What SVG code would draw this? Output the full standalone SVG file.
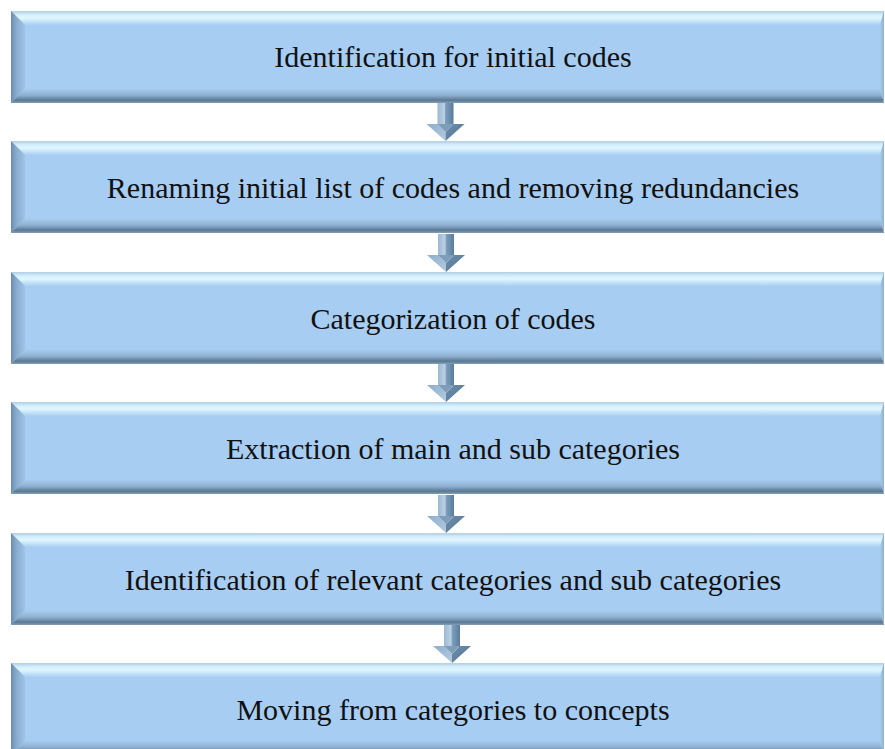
<svg xmlns="http://www.w3.org/2000/svg" xmlns:xlink="http://www.w3.org/1999/xlink" width="885" height="749" viewBox="0 0 885 749">
<defs>
<style>
.lbl{font-family:"Liberation Serif","Times New Roman",serif;font-size:30px;fill:#111;text-anchor:middle}
</style>
<linearGradient id="gTop" x1="0" y1="0" x2="0" y2="1">
<stop offset="0" stop-color="#b3cde3"/>
<stop offset="0.3" stop-color="#d6f1ff"/>
<stop offset="0.5" stop-color="#e0f7ff"/>
<stop offset="1" stop-color="#a9cff2"/>
</linearGradient>
<linearGradient id="gLeft" x1="0" y1="0" x2="1" y2="0">
<stop offset="0" stop-color="#6b8cab"/>
<stop offset="0.35" stop-color="#86aacb"/>
<stop offset="1" stop-color="#9fc4e7"/>
</linearGradient>
<linearGradient id="gBot" x1="0" y1="0" x2="0" y2="1">
<stop offset="0" stop-color="#a6cbee"/>
<stop offset="0.45" stop-color="#8eb0d0"/>
<stop offset="0.8" stop-color="#5a7892"/>
<stop offset="1" stop-color="#849fb8"/>
</linearGradient>
<linearGradient id="gRight" x1="0" y1="0" x2="1" y2="0">
<stop offset="0" stop-color="#a9cdee"/>
<stop offset="1" stop-color="#8fb0cd"/>
</linearGradient>
<linearGradient id="gShaft" x1="0" y1="0" x2="1" y2="0">
<stop offset="0" stop-color="#9cb8d2"/>
<stop offset="0.45" stop-color="#bcd2e5"/>
<stop offset="0.5" stop-color="#7f9fbd"/>
<stop offset="1" stop-color="#5a7c9c"/>
</linearGradient>
<linearGradient id="gHeadL" x1="0" y1="0" x2="1" y2="1">
<stop offset="0" stop-color="#8eaecb"/>
<stop offset="1" stop-color="#b4cbe0"/>
</linearGradient>
<linearGradient id="gHeadR" x1="0" y1="0" x2="1" y2="1">
<stop offset="0" stop-color="#6e90ae"/>
<stop offset="1" stop-color="#4f7291"/>
</linearGradient>
<g id="box">
<rect x="0" y="0" width="873" height="92" fill="#a7cdf2"/>
<polygon points="0,0 873,0 869,14 14,14" fill="url(#gTop)"/>
<polygon points="0,0 14,14 14,78 0,92" fill="url(#gLeft)"/>
<polygon points="0,92 14,78 869,78 873,92" fill="url(#gBot)"/>
<polygon points="873,0 869,14 869,78 873,92" fill="url(#gRight)"/>
</g>
<g id="arrow">
<rect x="-19" y="-1" width="38" height="38" fill="#ffffff"/>
<rect x="-8" y="1" width="16" height="22" fill="url(#gShaft)"/>
<polygon points="-19,22 -8,22 0,30 0,39" fill="url(#gHeadL)"/>
<polygon points="8,22 19,22 0,39 0,30" fill="url(#gHeadR)"/>
<polygon points="-8,22 8,22 0,30" fill="#7d9dbb"/>
</g>
</defs>
<g id="connectors">
<use xlink:href="#arrow" href="#arrow" transform="translate(445.5,102)"/>
<use xlink:href="#arrow" href="#arrow" transform="translate(446,233)"/>
<use xlink:href="#arrow" href="#arrow" transform="translate(446,363)"/>
<use xlink:href="#arrow" href="#arrow" transform="translate(446,494)"/>
<use xlink:href="#arrow" href="#arrow" transform="translate(452,624)"/>
</g>
<g id="step1" transform="translate(11,11)"><use xlink:href="#box" href="#box"/><text class="lbl" x="442" y="56">Identification for initial codes</text></g>
<g id="step2" transform="translate(11,141)"><use xlink:href="#box" href="#box"/><text class="lbl" x="442" y="57">Renaming initial list of codes and removing redundancies</text></g>
<g id="step3" transform="translate(11,272)"><use xlink:href="#box" href="#box"/><text class="lbl" x="442" y="57">Categorization of codes</text></g>
<g id="step4" transform="translate(11,402)"><use xlink:href="#box" href="#box"/><text class="lbl" x="442" y="57">Extraction of main and sub categories</text></g>
<g id="step5" transform="translate(11,533)"><use xlink:href="#box" href="#box"/><text class="lbl" x="442" y="57">Identification of relevant categories and sub categories</text></g>
<g id="step6" transform="translate(11,663)"><use xlink:href="#box" href="#box"/><text class="lbl" x="442" y="57">Moving from categories to concepts</text></g>
</svg>
